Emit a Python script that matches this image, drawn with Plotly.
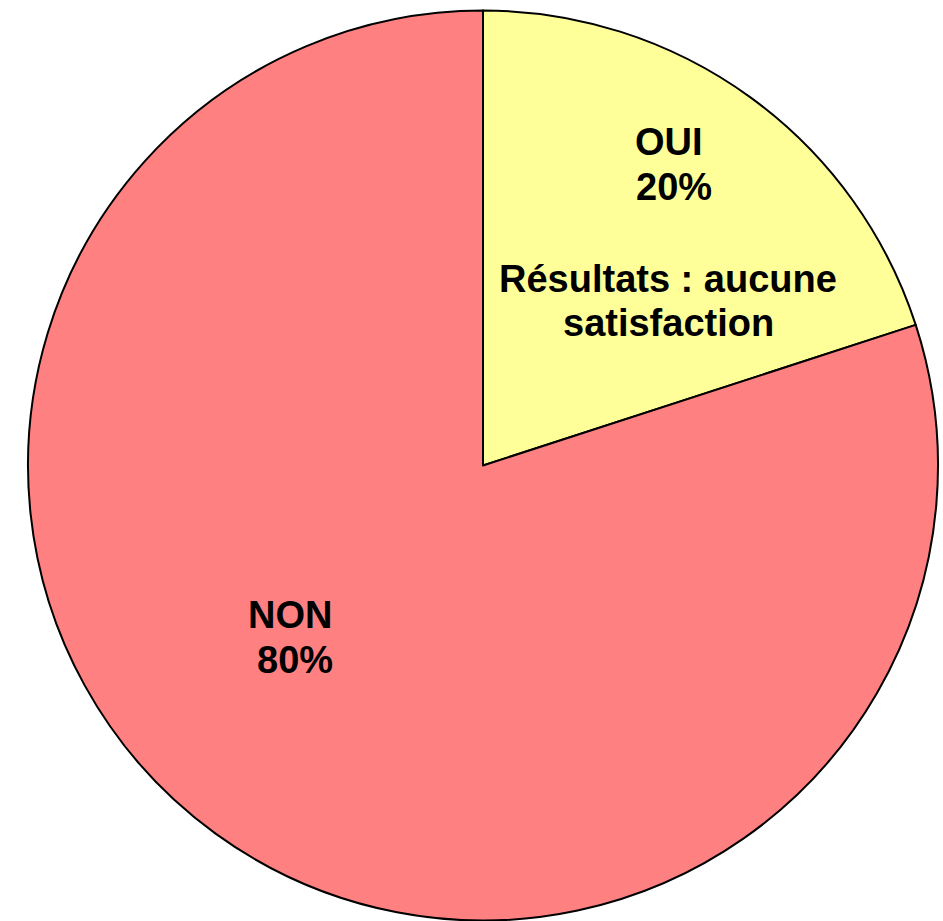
import plotly.graph_objects as go

labels = ["OUI", "NON"]
values = [20, 80]
colors = ["#FFFF99", "#FF8080"]
note_lines = ["Résultats : aucune", "satisfaction"]

W, H = 943, 921
cx, cy, r = 483, 465.5, 455

total = sum(values)
pcts = [f"{round(v * 100 / total)}%" for v in values]

fig = go.Figure(go.Pie(
    labels=labels, values=values, sort=False, direction="clockwise", rotation=0,
    marker=dict(colors=colors, line=dict(color="black", width=2)),
    textinfo="none", hoverinfo="label+percent", showlegend=False,
    domain=dict(x=[(cx - r) / W, (cx + r) / W], y=[(H - cy - r) / H, (H - cy + r) / H]),
))

font = dict(family="Liberation Sans, Arial, sans-serif", size=38, color="black")

def add_line(text, xc, baseline):
    fig.add_annotation(x=xc / W, y=1 - (baseline - 13) / H, xref="paper", yref="paper",
                       text=f"<b>{text}</b>", showarrow=False, font=font,
                       xanchor="center", yanchor="middle")

add_line(labels[0], 669, 155)
add_line(pcts[0], 674, 200)
add_line(note_lines[0], 668, 292)
add_line(note_lines[1], 668, 336)
add_line(labels[1], 290, 628)
add_line(pcts[1], 295, 673)

fig.update_layout(width=W, height=H, margin=dict(l=0, r=0, t=0, b=0),
                  paper_bgcolor="white", plot_bgcolor="white")
fig.write_html("out.html")
